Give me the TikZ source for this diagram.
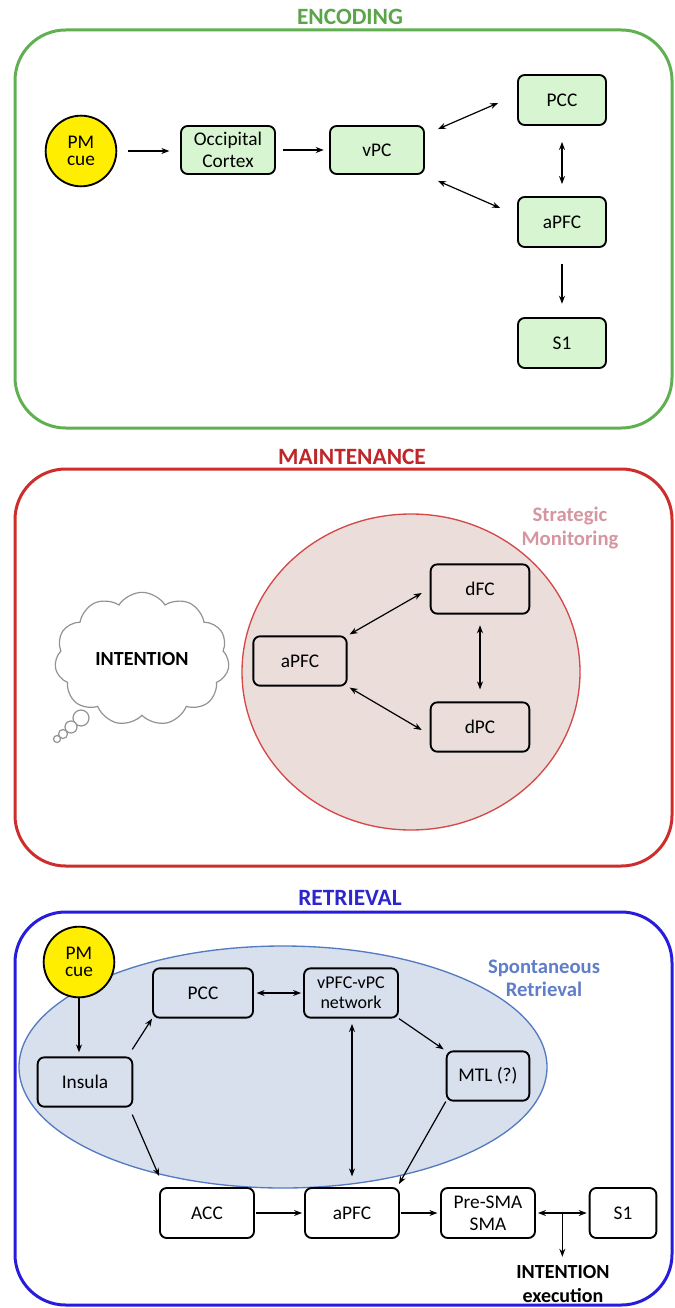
\documentclass[tikz,border=0pt]{standalone}
\usepackage{fontspec}
\setmainfont{Carlito}
\usetikzlibrary{arrows.meta,calc,shapes.symbols}
\definecolor{encgreen}{RGB}{96,176,82}
\definecolor{enctitle}{RGB}{90,165,74}
\definecolor{encfill}{RGB}{214,245,208}
\definecolor{mainred}{RGB}{205,45,45}
\definecolor{maintitle}{RGB}{190,38,42}
\definecolor{mainfill}{RGB}{234,221,218}
\definecolor{mainedge}{RGB}{212,72,72}
\definecolor{strattext}{RGB}{214,150,160}
\definecolor{retblue}{RGB}{40,28,220}
\definecolor{rettitle}{RGB}{45,38,205}
\definecolor{retfill}{RGB}{216,223,237}
\definecolor{retedge}{RGB}{84,122,192}
\definecolor{sponttext}{RGB}{95,125,200}
\definecolor{cueyellow}{RGB}{255,238,0}
\begin{document}
\begin{tikzpicture}[x=0.75pt,y=-0.75pt,
  titletext/.style={font=\fontsize{17.5}{19}\selectfont\bfseries},
  frame/.style={line width=2.25pt,rounded corners=38pt},
  box/.style={draw=black,line width=1.4pt,rounded corners=5pt,align=center,
    font=\fontsize{14.5}{16.5}\selectfont,inner sep=1pt},
  gbox/.style={box,fill=encfill},
  cue/.style={circle,draw=black,line width=1.4pt,fill=cueyellow,minimum size=53pt,
    inner sep=0pt,align=center,font=\fontsize{14.5}{13}\selectfont},
  arr/.style={line width=0.9pt,-{Stealth[length=6pt,width=4.5pt]}},
  darr/.style={line width=0.9pt,{Stealth[length=6pt,width=4.5pt]}-{Stealth[length=6pt,width=4.5pt]}},
  sidetext/.style={align=center,font=\fontsize{15.5}{17.5}\selectfont\bfseries}
]
\useasboundingbox (0,0) rectangle (674,1308);

% ================= ENCODING =================
\node[titletext,text=enctitle] (enctitle) at (350,17) {ENCODING};
\draw[frame,draw=encgreen] (15,30) rectangle (672,428);

\node[cue] (pm1) at (81,151) {PM\\cue};
\node[gbox,minimum width=70.5pt,minimum height=36pt] (occ) at (228,150) {Occipital\\Cortex};
\node[gbox,minimum width=70.5pt,minimum height=36pt] (vpc1) at (377,150) {vPC};
\node[gbox,minimum width=66pt,minimum height=37.5pt] (pcc1) at (562,100) {PCC};
\node[gbox,minimum width=66pt,minimum height=37.5pt] (apfc1) at (562,222) {aPFC};
\node[gbox,minimum width=66pt,minimum height=37.5pt] (s11) at (562,343) {S1};

\draw[arr,shorten <=8pt,shorten >=8pt] (pm1.east) -- (pm1.east -| occ.west);
\draw[arr,shorten <=5pt,shorten >=4pt] (occ.east) -- (vpc1.west);
\draw[darr] ([shift={(13,4)}]vpc1.north east) -- ([shift={(-19,3)}]pcc1.west);
\draw[darr] ([shift={(13,6)}]vpc1.south east) -- ([shift={(-17,-14)}]apfc1.west);
\draw[darr,shorten <=12pt,shorten >=9pt] (pcc1.south) -- (apfc1.north);
\draw[arr,shorten <=12pt,shorten >=10pt] (apfc1.south) -- (s11.north);

% ================= MAINTENANCE =================
\node[titletext,text=maintitle] (maintitle) at (352,457) {MAINTENANCE};
\draw[frame,draw=mainred] (15,469) rectangle (672,866);

\draw[fill=mainfill,draw=mainedge,line width=1pt] (411,672) ellipse [x radius=169,y radius=158];
\node[sidetext,text=strattext] (strat) at (570,528) {Strategic\\Monitoring};

\node[box,minimum width=74pt,minimum height=37pt] (dfc) at (480,589) {dFC};
\node[box,minimum width=74pt,minimum height=37pt] (dpc) at (480,727) {dPC};
\node[box,minimum width=70pt,minimum height=37pt] (apfc2) at (300,661) {aPFC};

\draw[darr] ([shift={(2,-1)}]apfc2.north east) -- ([shift={(-8,4)}]dfc.west);
\draw[darr] ([shift={(2,1)}]apfc2.south east) -- ([shift={(-8,3)}]dpc.west);
\draw[darr,shorten <=8pt,shorten >=9pt] (dfc.south) -- (dpc.north);

% thought cloud
\draw[draw=gray!85,line width=0.9pt,fill=white] (81,718) circle [radius=8];
\node[cloud,cloud puffs=11,cloud puff arc=115,cloud ignores aspect,draw=gray!85,line width=0.9pt,
  fill=white,minimum width=131pt,minimum height=100pt,
  font=\fontsize{15}{17}\selectfont\bfseries] (intent) at (142,659) {INTENTION};
\draw[draw=gray!85,line width=0.9pt,fill=white] (71,727) circle [radius=6];
\draw[draw=gray!85,line width=0.9pt,fill=white] (63,734) circle [radius=4.5];
\draw[draw=gray!85,line width=0.9pt,fill=white] (57,739) circle [radius=3.5];

% ================= RETRIEVAL =================
\node[titletext,text=rettitle] (rettitle) at (350,898) {RETRIEVAL};
\draw[frame,draw=retblue] (15,912) rectangle (672,1305);

\draw[fill=retfill,draw=retedge,line width=1pt] (283,1067) ellipse [x radius=264,y radius=121];
\node[sidetext,text=sponttext] (spont) at (544,978) {Spontaneous\\Retrieval};

\node[cue] (pm3) at (79,962) {PM\\cue};
\node[box,minimum width=75pt,minimum height=37pt] (pcc3) at (203,993) {PCC};
\node[box,minimum width=70.5pt,minimum height=37pt,font=\fontsize{13.5}{15}\selectfont] (vpfc) at (351,993) {vPFC-vPC\\network};
\node[box,minimum width=71pt,minimum height=37pt] (insula) at (85,1082) {Insula};
\node[box,minimum width=62pt,minimum height=37pt] (mtl) at (488,1076) {MTL (?)};
\node[box,minimum width=70.5pt,minimum height=37.5pt] (acc) at (207,1213) {ACC};
\node[box,minimum width=70.5pt,minimum height=37.5pt] (apfc3) at (352,1213) {aPFC};
\node[box,minimum width=70.5pt,minimum height=37.5pt] (presma) at (488,1213) {Pre-SMA\\SMA};
\node[box,minimum width=50pt,minimum height=37.5pt] (s13) at (623,1213) {S1};
\node[align=center,inner sep=0pt,font=\fontsize{15}{18.5}\selectfont\bfseries] (exec) at (563,1284) {INTENTION\\execution};

\draw[arr,shorten >=3pt] (pm3.south) -- (pm3.south |- insula.north);
\draw[arr] ([shift={(-1,-7)}]insula.north east) -- (pcc3.south west);
\draw[arr] ([shift={(-1,7)}]insula.south east) -- ([shift={(0,-11)}]acc.north west);
\draw[darr,shorten <=2pt,shorten >=1.5pt] (pcc3.east) -- (vpfc.west);
\draw[arr] (vpfc.south east) -- ([shift={(-2,-1)}]mtl.north west);
\draw[darr,shorten <=4pt,shorten >=8pt] (vpfc.south -| apfc3.north) -- (apfc3.north);
\draw[arr] (mtl.south west) -- ([shift={(-1,-3)}]apfc3.north east);
\draw[arr,shorten <=1pt,shorten >=1.5pt] (acc.east) -- (apfc3.west);
\draw[arr,shorten <=1pt,shorten >=2pt] (apfc3.east) -- (presma.west);
\draw[darr,shorten <=1.5pt,shorten >=1.5pt] (presma.east) -- (s13.west);
\coordinate (mid) at ($(presma.east)!0.5!(s13.west)$);
\draw[arr,shorten >=6pt] (mid) -- (mid |- exec.north);
\end{tikzpicture}
\end{document}
